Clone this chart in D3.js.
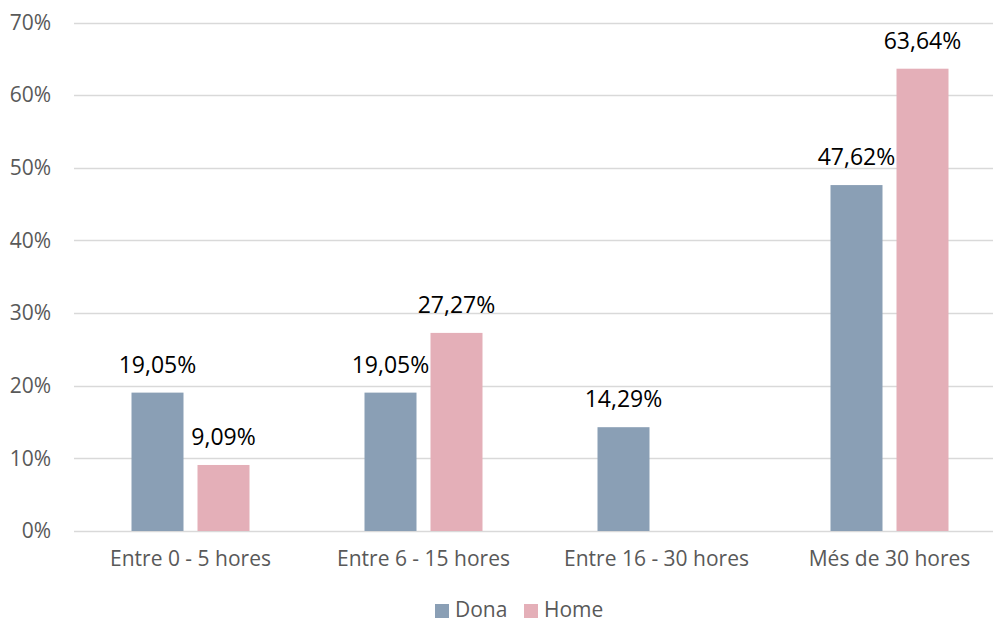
<!DOCTYPE html>
<html>
<head>
<meta charset="utf-8">
<script src="https://cdn.jsdelivr.net/npm/d3@7"></script>
<style>
  html, body { margin: 0; padding: 0; background: #fff; }
  svg { display: block; font-family: "Open Sans", sans-serif; }
</style>
</head>
<body>
<svg id="chart" width="993" height="623"></svg>
<script>
// Hours per week, share of respondents by gender
const categories = ["Entre 0 - 5 hores", "Entre 6 - 15 hores", "Entre 16 - 30 hores", "Més de 30 hores"];
const seriesNames = ["Dona", "Home"];
const dona = [19.05, 19.05, 14.29, 47.62];
const home = [9.09, 27.27, 0, 63.64];
const yTicks = [0, 10, 20, 30, 40, 50, 60, 70];
const colors = ["#8A9FB5", "#E4AFB8"];

const svg = d3.select("#chart");
const plotLeft = 74, plotTop = 22.5, plotBottom = 531;
const step = 233;

const x0 = d3.scaleBand().domain(categories).range([plotLeft, plotLeft + step * categories.length]).padding(0);
const x1 = d3.scaleBand().domain(seriesNames).range([0, 118]).paddingInner(14 / 66);
const y = d3.scaleLinear().domain([0, 70]).range([plotBottom, plotTop]);

const fmt = v => v.toFixed(2).replace(".", ",") + "%";

// Gridlines
svg.append("g").selectAll("line").data(yTicks).join("line")
  .attr("x1", plotLeft).attr("x2", 993)
  .attr("y1", d => Math.round(y(d)) + 0.5).attr("y2", d => Math.round(y(d)) + 0.5)
  .attr("stroke", "#D9D9D9").attr("stroke-width", 1.3);

// Y axis labels
const yAxis = d3.axisLeft(y).tickValues(yTicks).tickFormat(d => d + "%").tickSize(0).tickPadding(0);
const gy = svg.append("g").attr("transform", `translate(51,0)`).call(yAxis);
gy.select(".domain").remove();
gy.selectAll("text").attr("fill", "#595959").style("font-size", "21px").style("font-family", "'Open Sans', sans-serif");

// X axis labels
const xAxis = d3.axisBottom(x0).tickSize(0).tickPadding(0);
const gx = svg.append("g").attr("transform", `translate(0,${plotBottom + 20})`).call(xAxis);
gx.select(".domain").remove();
gx.selectAll("text").attr("fill", "#595959").style("font-size", "21px").style("font-family", "'Open Sans', sans-serif");

// Bars
const rows = categories.map((c, i) => ({ cat: c, values: [dona[i], home[i]] }));
const groups = svg.append("g").selectAll("g").data(rows).join("g")
  .attr("transform", d => `translate(${x0(d.cat) + (step - 118) / 2},0)`);

const items = groups.selectAll("g").data(d => d.values.map((v, j) => ({ name: seriesNames[j], v, j }))).join("g");
items.filter(d => d.v > 0).append("rect")
  .attr("x", d => x1(d.name))
  .attr("width", x1.bandwidth())
  .attr("y", d => y(d.v))
  .attr("height", d => y(0) - y(d.v))
  .attr("fill", d => colors[d.j]);

items.filter(d => d.v > 0).append("text")
  .attr("x", d => x1(d.name) + x1.bandwidth() / 2)
  .attr("y", d => y(d.v) - 20)
  .attr("text-anchor", "middle")
  .attr("fill", "#000")
  .style("font-size", "23px")
  .text(d => fmt(d.v));

// Legend
const legend = svg.append("g");
const legendItems = [{ name: "Dona", x: 435 }, { name: "Home", x: 524 }];
legendItems.forEach((d, j) => {
  legend.append("rect").attr("x", d.x).attr("y", 604).attr("width", 14).attr("height", 14).attr("fill", colors[j]);
  legend.append("text").attr("x", d.x + 20).attr("y", 617).attr("fill", "#595959")
    .style("font-size", "21px").text(d.name);
});
</script>
</body>
</html>
